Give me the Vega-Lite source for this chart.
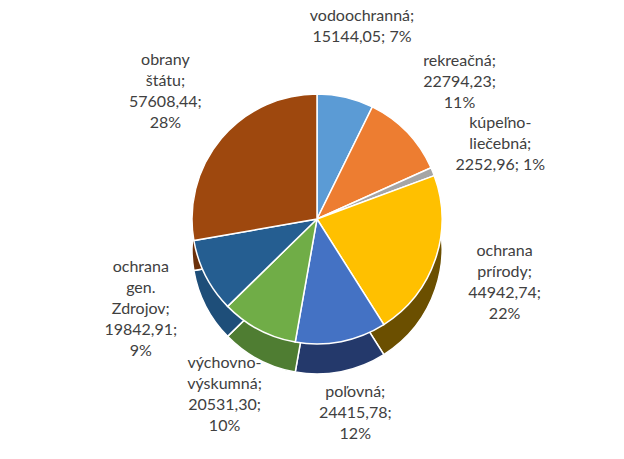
{
  "$schema": "https://vega.github.io/schema/vega-lite/v6.json",
  "autosize": {"type": "fit", "contains": "padding"},
  "width": 624,
  "height": 459,
  "padding": {"left": 10, "top": 7, "right": 0, "bottom": 28},
  "background": "white",
  "config": {"view": {"stroke": null}},
  "data": {
    "values": [
      {"i": 1, "kategoria": "vodoochranná", "hodnota": 15144.05, "label": "vodoochranná;\n15144,05; 7%"},
      {"i": 2, "kategoria": "rekreačná", "hodnota": 22794.23, "label": "rekreačná;\n22794,23;\n11%"},
      {"i": 3, "kategoria": "kúpeľno-liečebná", "hodnota": 2252.96, "label": "kúpeľno-\nliečebná;\n2252,96; 1%"},
      {"i": 4, "kategoria": "ochrana prírody", "hodnota": 44942.74, "label": "ochrana\nprírody;\n44942,74;\n22%"},
      {"i": 5, "kategoria": "poľovná", "hodnota": 24415.78, "label": "poľovná;\n24415,78;\n12%"},
      {"i": 6, "kategoria": "výchovno-výskumná", "hodnota": 20531.30, "label": "výchovno-\nvýskumná;\n20531,30;\n10%"},
      {"i": 7, "kategoria": "ochrana gen. Zdrojov", "hodnota": 19842.91, "label": "ochrana\ngen.\nZdrojov;\n19842,91;\n9%"},
      {"i": 8, "kategoria": "obrany štátu", "hodnota": 57608.44, "label": "obrany\nštátu;\n57608,44;\n28%"}
    ]
  },
  "encoding": {
    "theta": {"field": "hodnota", "type": "quantitative", "stack": true},
    "order": {"field": "i", "type": "quantitative"}
  },
  "layer": [
    {
      "mark": {"type": "arc", "outerRadius": 125, "yOffset": 30, "stroke": "white", "strokeWidth": 1.5},
      "encoding": {
        "color": {
          "field": "kategoria", "type": "nominal", "legend": null,
          "scale": {
            "domain": ["vodoochranná", "rekreačná", "kúpeľno-liečebná", "ochrana prírody", "poľovná", "výchovno-výskumná", "ochrana gen. Zdrojov", "obrany štátu"],
            "range": ["#386A9A", "#A0521C", "#6E6E6E", "#6B4F00", "#24396B", "#4F7D32", "#1E4E79", "#6B300A"]
          }
        }
      }
    },
    {
      "mark": {"type": "arc", "outerRadius": 125, "stroke": "white", "strokeWidth": 1.5},
      "encoding": {
        "color": {
          "field": "kategoria", "type": "nominal", "legend": null,
          "scale": {
            "domain": ["vodoochranná", "rekreačná", "kúpeľno-liečebná", "ochrana prírody", "poľovná", "výchovno-výskumná", "ochrana gen. Zdrojov", "obrany štátu"],
            "range": ["#5B9BD5", "#ED7D31", "#A5A5A5", "#FFC000", "#4472C4", "#70AD47", "#255E91", "#9E480E"]
          }
        }
      }
    },
    {
      "mark": {
        "type": "text", "radius": 198, "lineBreak": "\n", "font": "Lato", "fontSize": 16, "lineHeight": 21,
        "fill": "#404040", "align": "center", "baseline": "middle",
        "dy": {"expr": "-(length(split(datum.label, '\\n')) - 1) * 10.5"}
      },
      "encoding": {
        "text": {"field": "label", "type": "nominal"}
      }
    }
  ],
  "resolve": {"scale": {"color": "independent"}}
}
